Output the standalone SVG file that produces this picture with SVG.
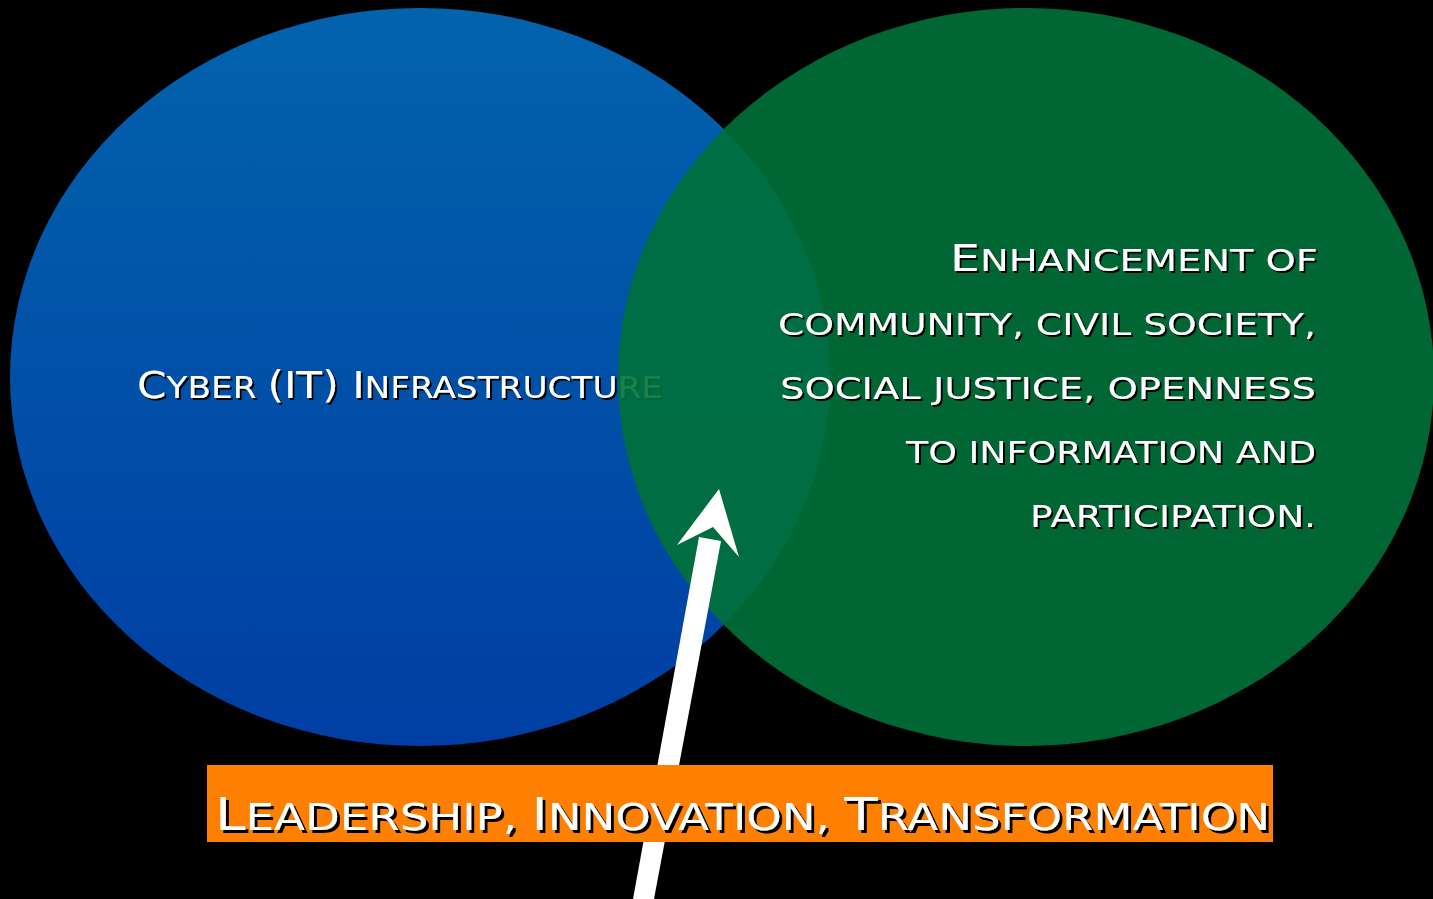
<svg xmlns="http://www.w3.org/2000/svg" width="1433" height="899" viewBox="0 0 1433 899">
<defs>
<linearGradient id="blueGrad" x1="0" y1="0" x2="0" y2="1">
<stop offset="0" stop-color="#0263ad"/>
<stop offset="1" stop-color="#003ea3"/>
</linearGradient>
<filter id="shadow" x="-5%" y="-30%" width="110%" height="160%">
<feDropShadow dx="2" dy="2" stdDeviation="0.4" flood-color="#000" flood-opacity="1"/>
</filter>
<filter id="shadowBig" x="-5%" y="-30%" width="110%" height="160%">
<feDropShadow dx="3" dy="3" stdDeviation="0.4" flood-color="#000" flood-opacity="1"/>
</filter>
</defs>
<style>
.t{font-family:"DejaVu Sans","Liberation Sans",sans-serif;fill:#fff;text-transform:uppercase}
.cap{font-size:37px}
.sm{font-size:30px}
.bcap{font-size:45px}
.bsm{font-size:37px}
</style>
<rect x="0" y="0" width="1433" height="899" fill="#000"/>
<g id="node-cyber">
<ellipse cx="420" cy="377" rx="410" ry="369" fill="url(#blueGrad)"/>
<text class="t" x="137" y="398" textLength="526" lengthAdjust="spacingAndGlyphs" filter="url(#shadow)"><tspan class="cap">C</tspan><tspan class="sm">yber </tspan><tspan class="cap">(IT) I</tspan><tspan class="sm">nfrastructure</tspan></text>
</g>
<g id="node-community">
<ellipse cx="1026" cy="377" rx="408" ry="369" fill="#007138" fill-opacity="0.9"/>
<g class="t" text-anchor="end" filter="url(#shadow)">
<text x="1318" y="271" textLength="368" lengthAdjust="spacingAndGlyphs"><tspan class="cap">E</tspan><tspan class="sm">nhancement of</tspan></text>
<text class="sm" x="1316" y="335" textLength="538" lengthAdjust="spacingAndGlyphs">community, civil society,</text>
<text class="sm" x="1316" y="399" textLength="536" lengthAdjust="spacingAndGlyphs">social justice, openness</text>
<text class="sm" x="1316" y="463" textLength="410" lengthAdjust="spacingAndGlyphs">to information and</text>
<text class="sm" x="1316" y="527" textLength="286" lengthAdjust="spacingAndGlyphs">participation.</text>
</g>
</g>
<g id="connectors">
<polygon points="633,899 654,899 721,541 699,537" fill="#fff"/>
<polygon points="719,489 739,557 713,527 677,545" fill="#fff"/>
</g>
<g id="node-leadership">
<rect x="207" y="765" width="1066" height="77" fill="#ff8000"/>
<text class="t" x="215" y="830" textLength="1055" lengthAdjust="spacingAndGlyphs" filter="url(#shadowBig)"><tspan class="bcap">L</tspan><tspan class="bsm">eadership, </tspan><tspan class="bcap">I</tspan><tspan class="bsm">nnovation, </tspan><tspan class="bcap">T</tspan><tspan class="bsm">ransformation</tspan></text>
</g>
</svg>
